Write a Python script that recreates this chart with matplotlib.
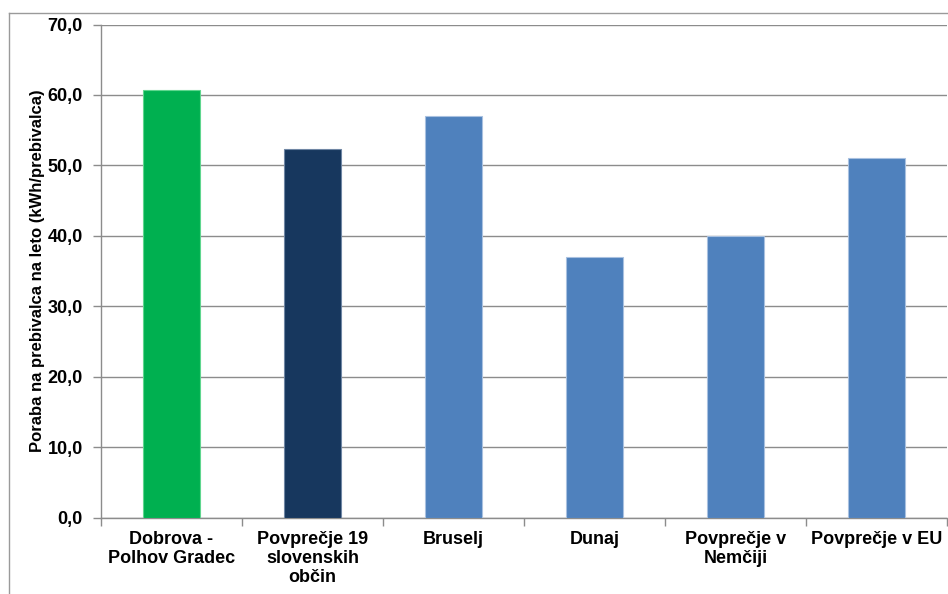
import matplotlib
matplotlib.use("Agg")
import matplotlib.pyplot as plt
from matplotlib.lines import Line2D

categories = ["Dobrova -\nPolhov Gradec", "Povprečje 19\nslovenskih\nobčin", "Bruselj",
              "Dunaj", "Povprečje v\nNemčiji", "Povprečje v EU"]
values = [60.7, 52.3, 57.0, 37.0, 40.0, 51.0]
colors = ["#00B050", "#17375E", "#4F81BD", "#4F81BD", "#4F81BD", "#4F81BD"]
edge_colors = ["#5FD68E", "#6F86A4", "#A9C1E0", "#A9C1E0", "#A9C1E0", "#A9C1E0"]
yticks = [0, 10, 20, 30, 40, 50, 60, 70]
ylabel = "Poraba na prebivalca na leto (kWh/prebivalca)"

plt.rcParams["font.family"] = ["Liberation Sans", "DejaVu Sans"]
W, H = 948, 594
fig = plt.figure(figsize=(W / 100, H / 100), dpi=100)
ax = fig.add_axes([101 / W, 1 - 517.5 / H, 846 / W, (517.5 - 24.5) / H])

x = list(range(len(categories)))
ax.bar(x, values, width=0.41, color=colors, edgecolor=edge_colors, linewidth=0.8, zorder=3)

ax.set_xlim(-0.5, len(categories) - 0.5)
ax.set_ylim(0, 70)
ax.set_yticks(yticks)
ax.set_yticklabels([f"{v:.1f}".replace(".", ",") for v in yticks],
                   fontsize=13, fontweight="bold")
ax.yaxis.grid(True, color="#8C8C8C", linewidth=1.0, zorder=0)
ax.set_axisbelow(True)

ax.set_xticks(x)
ax.set_xticklabels(categories, fontsize=13, fontweight="bold", linespacing=1.15)
ax.set_xticks([i + 0.5 for i in range(-1, len(categories))], minor=True)
ax.tick_params(axis="x", which="major", length=0, pad=10)
ax.tick_params(axis="x", which="minor", length=6, color="#8C8C8C", width=1)
ax.tick_params(axis="y", length=6, color="#8C8C8C", width=1, pad=7)

for side in ["top", "right"]:
    ax.spines[side].set_visible(False)
for side in ["left", "bottom"]:
    ax.spines[side].set_color("#8C8C8C")
    ax.spines[side].set_linewidth(1.0)

ax.set_ylabel(ylabel, fontsize=12, fontweight="bold", labelpad=2)

# outer chart frame
fig.add_artist(Line2D([8.5 / W, 8.5 / W], [0, 1 - 13 / H], color="#9A9A9A", lw=1.0))
fig.add_artist(Line2D([8.5 / W, 1], [1 - 13 / H, 1 - 13 / H], color="#9A9A9A", lw=1.0))

fig.savefig("out.png", dpi=100, facecolor="white")
